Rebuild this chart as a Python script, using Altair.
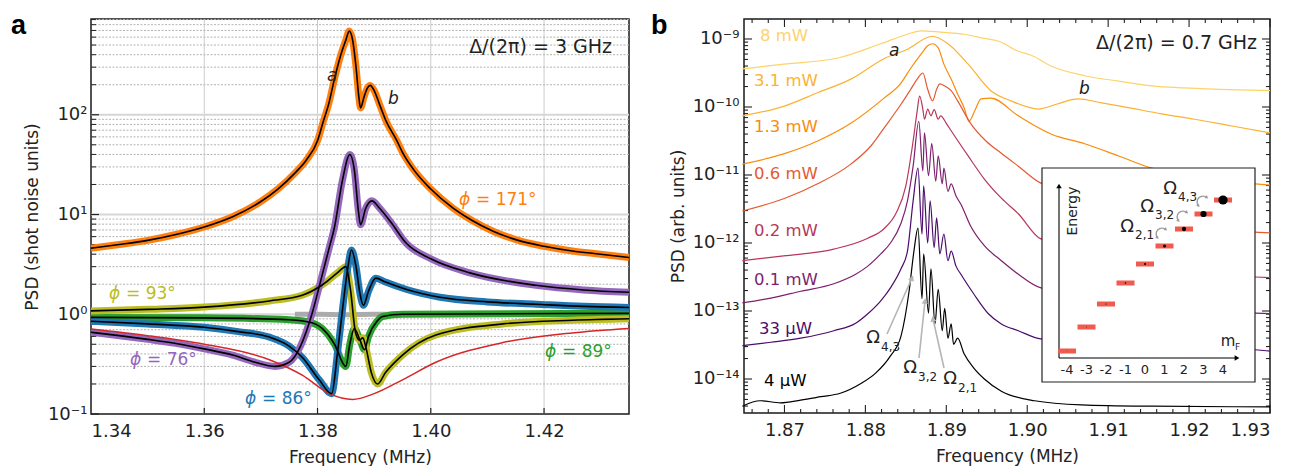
import math
import altair as alt
import pandas as pd

FONT = "DejaVu Sans"
INK = "#222222"

# ---------------- panel a data (frequency MHz, PSD shot-noise units) ----------------
a_orange_f = [1.340, 1.345, 1.350, 1.355, 1.360, 1.365, 1.370, 1.373, 1.376, 1.378, 1.380, 1.381, 1.382, 1.383,
              1.384, 1.385, 1.3856, 1.3862, 1.3868, 1.3873, 1.3876, 1.3882, 1.3888, 1.3893, 1.3900, 1.391, 1.392,
              1.394, 1.395, 1.397, 1.400, 1.404, 1.407, 1.411, 1.415, 1.420, 1.425, 1.430, 1.435]
a_orange_v = [4.6, 5.0, 5.5, 6.3, 7.5, 9.5, 13.5, 18, 26, 35, 55, 85, 130, 230, 380, 560, 690, 560, 300, 150,
              117, 150, 185, 197, 175, 125, 89, 55, 42, 28, 18, 11.5, 8.9, 6.8, 5.6, 4.8, 4.3, 4.0, 3.7]

a_purple_f = [1.340, 1.345, 1.350, 1.355, 1.360, 1.365, 1.369, 1.3725, 1.375, 1.377, 1.379, 1.3805, 1.382, 1.383,
              1.3844, 1.3857, 1.3865, 1.3872, 1.3876, 1.3885, 1.3896, 1.391, 1.393, 1.3956, 1.400, 1.4069, 1.4186,
              1.427, 1.435]
a_purple_v = [0.66, 0.61, 0.56, 0.51, 0.45, 0.39, 0.33, 0.30, 0.33, 0.48, 1.0, 2.1, 4.5, 7.5, 22, 40, 28, 11, 7.9,
              11.5, 13.7, 11.5, 8.3, 5.2, 3.6, 2.6, 1.95, 1.75, 1.66]

a_blue_f = [1.340, 1.350, 1.360, 1.366, 1.3715, 1.375, 1.3773, 1.3803, 1.3825, 1.3835, 1.3844, 1.3853, 1.386,
            1.3868, 1.3875, 1.3881, 1.389, 1.3903, 1.392, 1.3956, 1.4016, 1.410, 1.4186, 1.427, 1.435]
a_blue_v = [0.85, 0.80, 0.74, 0.67, 0.59, 0.48, 0.37, 0.22, 0.16, 0.40, 1.1, 2.8, 4.4, 3.0, 1.6, 1.23, 1.7, 2.3,
            2.1, 1.78, 1.48, 1.33, 1.26, 1.2, 1.17]

a_yellow_f = [1.340, 1.350, 1.360, 1.3715, 1.3773, 1.381, 1.3835, 1.385, 1.3858, 1.3867, 1.3874, 1.388, 1.3886,
              1.3895, 1.3906, 1.392, 1.395, 1.4009, 1.4127, 1.425, 1.435]
a_yellow_v = [1.08, 1.12, 1.18, 1.36, 1.55, 2.0, 2.6, 3.0, 1.8, 0.66, 0.55, 0.58, 0.45, 0.26, 0.2, 0.26, 0.39, 0.62,
              0.8, 0.87, 0.9]

a_green_f = [1.340, 1.360, 1.375, 1.379, 1.3815, 1.383, 1.385, 1.3857, 1.3865, 1.3875, 1.3883, 1.389, 1.3905,
             1.3915, 1.395, 1.435]
a_green_v = [0.93, 0.92, 0.88, 0.82, 0.66, 0.50, 0.30, 0.50, 0.72, 0.55, 0.44, 0.60, 0.85, 0.95, 1.0, 1.02]

a_gray_f = [1.3760, 1.380, 1.385, 1.390, 1.400, 1.420, 1.435]
a_gray_v = [1.0, 1.0, 0.99, 1.0, 1.0, 1.0, 1.0]

a_red_f = [1.340, 1.350, 1.360, 1.3715, 1.3773, 1.3821, 1.3862, 1.390, 1.395, 1.4009, 1.4127, 1.425, 1.435]
a_red_v = [0.71, 0.61, 0.50, 0.35, 0.245, 0.16, 0.14, 0.16, 0.22, 0.33, 0.52, 0.65, 0.72]

a_x_ticks = [1.34, 1.36, 1.38, 1.40, 1.42]
a_y_ticks = [0.1, 1, 10, 100]
a_y_labels = ["10⁻¹", "10⁰", "10¹", "10²"]

# ---------------- panel b data (frequency MHz, log10 PSD arb. units) ----------------
b_8mw_f = [1.8648, 1.8699, 1.8766, 1.8819, 1.8852, 1.8869, 1.8893, 1.8922, 1.8947, 1.8964, 1.8989, 1.9005, 1.9030,
           1.9071, 1.9113, 1.9154, 1.9194, 1.9237, 1.9300]
b_8mw_e = [-9.44, -9.37, -9.28, -9.07, -8.93, -8.88, -8.90, -8.93, -8.99, -9.03, -9.18, -9.24, -9.40, -9.54, -9.62,
           -9.69, -9.72, -9.74, -9.76]

b_3mw_f = [1.8648, 1.8699, 1.8741, 1.8782, 1.8823, 1.8852, 1.8883, 1.8902, 1.8927, 1.8955, 1.8980, 1.9014, 1.9036,
           1.9063, 1.9092, 1.9125, 1.9166, 1.9207, 1.9253, 1.9300]
b_3mw_e = [-10.13, -9.99, -9.79, -9.59, -9.29, -9.15, -8.96, -9.07, -9.37, -9.76, -9.91, -10.03, -9.96, -9.88,
           -9.94, -10.01, -10.10, -10.18, -10.28, -10.38]

b_1mw_f = [1.8648, 1.8699, 1.8741, 1.8782, 1.8823, 1.8844, 1.8856, 1.8869, 1.8877, 1.8883, 1.8890, 1.8897, 1.8906,
           1.8914, 1.8922, 1.8928, 1.8935, 1.8943, 1.8955, 1.8989, 1.9030, 1.9071, 1.9113, 1.9154, 1.9282, 1.9300]
b_1mw_e = [-10.84, -10.69, -10.50, -10.24, -9.87, -9.65, -9.43, -9.22, -9.10, -9.07, -9.13, -9.37, -9.59, -9.81,
           -10.01, -10.21, -10.06, -9.88, -9.87, -10.13, -10.40, -10.54, -10.72, -10.90, -11.13, -11.15]

b_06mw_f = [1.8648, 1.8699, 1.8741, 1.8782, 1.8807, 1.8823, 1.8844, 1.8856, 1.8864, 1.8871, 1.8877, 1.8883, 1.8888,
            1.8892, 1.8898, 1.8906, 1.8914, 1.8930, 1.8949, 1.8968, 1.8989, 1.9017, 1.9282, 1.9300]
b_06mw_e = [-11.53, -11.35, -11.13, -10.84, -10.57, -10.31, -9.96, -9.74, -9.59, -9.50, -9.74, -9.91, -9.74, -9.66,
            -9.69, -9.76, -9.91, -10.24, -10.50, -10.68, -10.87, -11.12, -11.84, -11.85]

b_02mw_f = [1.8648, 1.8699, 1.8761, 1.8803, 1.8823, 1.8838, 1.8850, 1.8859, 1.8864, 1.8867, 1.8871, 1.8873, 1.8877,
            1.8881, 1.8885, 1.8890, 1.8893, 1.8900, 1.8906, 1.8927, 1.8947, 1.8968, 1.8989, 1.9017, 1.9282, 1.9300]
b_02mw_e = [-12.26, -12.19, -12.09, -11.93, -11.79, -11.56, -11.16, -10.50, -10.06, -9.84, -10.03, -10.18, -10.03,
            -10.13, -10.04, -10.18, -10.13, -10.24, -10.35, -10.72, -11.06, -11.34, -11.57, -11.94, -12.50, -12.51]

b_01mw_f = [1.8648, 1.8683, 1.8720, 1.8761, 1.8788, 1.8803, 1.8819, 1.8831, 1.8844, 1.8852, 1.8859, 1.8866, 1.8871,
            1.8873, 1.8878, 1.8882, 1.8887, 1.8890, 1.8895, 1.8897, 1.8902, 1.8906, 1.8912, 1.8918, 1.8930, 1.8947,
            1.8968, 1.8989, 1.9017, 1.9282, 1.9300]
b_01mw_e = [-12.88, -12.81, -12.71, -12.60, -12.46, -12.34, -12.16, -12.00, -11.71, -11.38, -10.87, -10.21, -10.94,
            -10.38, -11.01, -10.54, -11.09, -10.72, -11.13, -10.90, -11.24, -11.13, -11.31, -11.43, -11.75, -12.04,
            -12.26, -12.46, -12.66, -13.03, -13.04]

b_33uw_f = [1.8648, 1.8683, 1.8720, 1.8761, 1.8788, 1.8803, 1.8819, 1.8831, 1.8844, 1.8852, 1.8859, 1.8865, 1.8870,
            1.8872, 1.8877, 1.8880, 1.8885, 1.8888, 1.8892, 1.8897, 1.8902, 1.8906, 1.8912, 1.8918, 1.8934, 1.8952,
            1.8968, 1.8989, 1.9017, 1.9282, 1.9300]
b_33uw_e = [-13.51, -13.46, -13.40, -13.29, -13.18, -13.04, -12.85, -12.66, -12.38, -12.12, -11.38, -10.90, -11.87,
            -11.16, -12.00, -11.38, -12.07, -11.63, -12.16, -11.87, -12.26, -12.12, -12.34, -12.46, -12.75, -13.04,
            -13.19, -13.29, -13.41, -13.57, -13.59]

b_4uw_f = [1.8648, 1.8670, 1.8695, 1.8720, 1.8745, 1.8769, 1.8794, 1.8813, 1.8831, 1.8844, 1.8854, 1.8860, 1.8865,
           1.8870, 1.8872, 1.8878, 1.8881, 1.8886, 1.8890, 1.8895, 1.8898, 1.8902, 1.8906, 1.8909, 1.8914, 1.8922,
           1.8934, 1.8947, 1.8968, 1.9009, 1.9067, 1.9154, 1.9300]
b_4uw_e = [-14.40, -14.32, -14.35, -14.31, -14.26, -14.21, -14.07, -13.91, -13.66, -13.37, -12.71, -12.12, -11.78,
           -12.82, -12.16, -13.03, -12.38, -13.19, -12.68, -13.29, -12.96, -13.40, -13.19, -13.49, -13.40, -13.63,
           -13.84, -14.00, -14.18, -14.32, -14.38, -14.40, -14.41]

b_names = ["8 mW", "3.1 mW", "1.3 mW", "0.6 mW", "0.2 mW", "0.1 mW", "33 µW", "4 µW"]
b_colors = ["#fdd36a", "#fbb232", "#f98c0a", "#e35a32", "#b7375a", "#7e1f6e", "#4b0c6b", "#000000"]
b_x_ticks = [1.87, 1.88, 1.89, 1.90, 1.91, 1.92, 1.93]
b_y_exps = [-14, -13, -12, -11, -10, -9]
b_y_labels = ["10⁻¹⁴", "10⁻¹³", "10⁻¹²", "10⁻¹¹", "10⁻¹⁰", "10⁻⁹"]

# inset: Zeeman levels
inset_m = [-4, -3, -2, -1, 0, 1, 2, 3, 4]
inset_energy = [0, 24, 47, 68, 87, 105, 122, 137, 151]
inset_population = [0.002, 0.005, 0.01, 0.02, 0.04, 0.08, 0.15, 0.32, 0.7]

# ---------------- sizes ----------------
WA, HA = 538, 395
WB, HB = 526, 394


def xy(f, v):
    return pd.DataFrame({"f": f, "v": v})


def label_expr(values, labels):
    expr = "''"
    for val, lab in zip(values, labels):
        expr = f"abs(datum.value - {val!r}) < {abs(val) * 1e-6!r} ? '{lab}' : ({expr})"
    return expr


# ---------------- panel a ----------------
XA = alt.X("f:Q", scale=alt.Scale(domain=[1.34, 1.435], nice=False, zero=False),
           axis=alt.Axis(values=a_x_ticks, format=".2f", title="Frequency (MHz)", grid=False, ticks=False,
                         tickSize=0, domain=False, labelFont=FONT, labelFontSize=18, labelColor=INK,
                         labelPadding=8, titleFont=FONT, titleFontSize=17, titleFontWeight="normal",
                         titleColor=INK, titleBaseline="alphabetic", titleY=48, titleX=WA / 2))
YA = alt.Y("v:Q", scale=alt.Scale(type="log", domain=[0.1, 912], nice=False),
           axis=alt.Axis(values=a_y_ticks, labelExpr=label_expr(a_y_ticks, a_y_labels),
                         title="PSD (shot noise units)", grid=False, ticks=False, tickSize=0, domain=False,
                         labelFont=FONT, labelFontSize=18, labelColor=INK, labelPadding=4,
                         titleFont=FONT, titleFontSize=17, titleFontWeight="normal", titleColor=INK,
                         titleAngle=270, titleAlign="center", titleBaseline="middle", titleX=-59,
                         titleY=HA / 2))

a_minor = [m * 10.0 ** e for e in range(-1, 3) for m in range(2, 10) if m * 10.0 ** e < 912]

layers_a = [
    alt.Chart(xy([1.36, 1.38, 1.40, 1.42], [1, 1, 1, 1])).mark_rule(color="#cccccc", strokeWidth=1).encode(x=XA),
    alt.Chart(xy([1.36] * len(a_minor), a_minor)).mark_rule(color="#b3b3b3", strokeWidth=1,
                                                           strokeDash=[2, 1.5]).encode(y=YA),
    alt.Chart(xy([1.36] * 3, [1, 10, 100])).mark_rule(color="#d6d6d6", strokeWidth=2.2).encode(y=YA),
    alt.Chart(xy([1.36] * 4, a_y_ticks)).mark_rule(color=INK, strokeWidth=1.2).encode(
        y=YA, x=alt.value(0), x2=alt.value(8)),
    alt.Chart(xy([1.36] * len(a_minor), a_minor)).mark_rule(color=INK, strokeWidth=1).encode(
        y=YA, x=alt.value(0), x2=alt.value(5)),
    alt.Chart(xy(a_x_ticks[1:], [1] * 4)).mark_rule(color=INK, strokeWidth=1.2).encode(
        x=XA, y=alt.value(HA), y2=alt.value(HA - 6)),
]

bands = [
    (a_gray_f, a_gray_v, "#ababab", 5),
    (a_green_f, a_green_v, "#2ca02c", 7),
    (a_yellow_f, a_yellow_v, "#bcbd22", 7),
    (a_blue_f, a_blue_v, "#1f77b4", 7),
    (a_purple_f, a_purple_v, "#9467bd", 7),
    (a_orange_f, a_orange_v, "#ff7f0e", 7),
]
for f, v, c, w in bands:
    layers_a.append(alt.Chart(xy(f, v)).mark_line(color=c, strokeWidth=w, interpolate="monotone").encode(x=XA, y=YA))

layers_a.append(alt.Chart(xy(a_red_f, a_red_v)).mark_line(color="#d62728", strokeWidth=1.5,
                                                          interpolate="monotone").encode(x=XA, y=YA))
for f, v, c, w in bands[1:]:
    layers_a.append(alt.Chart(xy(f, v)).mark_line(color="black", strokeWidth=1.6,
                                                  interpolate="monotone").encode(x=XA, y=YA))


def txt(text, x, y, size=17, color=INK, align="left", baseline="middle", style="normal", weight="normal",
        angle=None):
    kw = dict(text=text, fontSize=size, color=color, align=align, baseline=baseline, font=FONT,
              fontStyle=style, fontWeight=weight)
    if angle is not None:
        kw["angle"] = angle
    return alt.Chart(pd.DataFrame({"k": [0]})).mark_text(**kw).encode(x=alt.value(x), y=alt.value(y))


def phi_label(rest, x, y, color):
    return [txt("ϕ", x, y, color=color, style="italic"), txt("= " + rest, x + 17, y, color=color)]


layers_a += [txt("Δ/(2π) = 3 GHz", 521, 28, size=19, align="right"),
             txt("a", 236, 57, style="italic"), txt("b", 297, 80, style="italic")]
layers_a += phi_label("171°", 368, 181, "#ff7f0e")
layers_a += phi_label("93°", 18, 275, "#bcbd22")
layers_a += phi_label("76°", 39, 341, "#9467bd")
layers_a += phi_label("86°", 154, 380, "#1f77b4")
layers_a += phi_label("89°", 454, 333, "#2ca02c")
layers_a.append(alt.Chart(pd.DataFrame({"k": [0]})).mark_text(
    text="a", fontSize=27, fontWeight="bold", font="Liberation Sans", align="left", baseline="top",
    color="black").encode(x=alt.value(-80), y=alt.value(-6)))

panel_a = alt.layer(*layers_a).properties(width=WA, height=HA)

# ---------------- panel b ----------------
YB_DOMAIN = [10 ** -14.5, 10 ** -8.706]
XB = alt.X("f:Q", scale=alt.Scale(domain=[1.865, 1.93], nice=False, zero=False),
           axis=alt.Axis(values=b_x_ticks, format=".2f", title="Frequency (MHz)", grid=False, ticks=False,
                         tickSize=0, domain=False, labelFont=FONT, labelFontSize=18, labelColor=INK,
                         labelPadding=8, labelFlush=True, titleFont=FONT, titleFontSize=17,
                         titleFontWeight="normal", titleColor=INK, titleBaseline="alphabetic", titleY=48,
                         titleX=WB / 2))
b_y_vals = [10.0 ** e for e in b_y_exps]
YB = alt.Y("v:Q", scale=alt.Scale(type="log", domain=YB_DOMAIN, nice=False),
           axis=alt.Axis(values=b_y_vals, labelExpr=label_expr(b_y_vals, b_y_labels),
                         title="PSD (arb. units)", grid=False, ticks=False, tickSize=0, domain=False,
                         labelFont=FONT, labelFontSize=18, labelColor=INK, labelPadding=5,
                         titleFont=FONT, titleFontSize=17, titleFontWeight="normal", titleColor=INK,
                         titleAngle=270, titleAlign="center", titleBaseline="middle", titleX=-66,
                         titleY=HB / 2))

b_minor_y = [m * 10.0 ** e for e in range(-15, -8) for m in range(2, 10)
             if YB_DOMAIN[0] <= m * 10.0 ** e <= YB_DOMAIN[1]]
b_minor_x = [round(1.866 + 0.002 * i, 3) for i in range(33)]
b_minor_x = [t for t in b_minor_x if t <= 1.93 and all(abs(t - mj) > 1e-6 for mj in b_x_ticks)]


def xyb(f, e):
    return pd.DataFrame({"f": f, "v": [10.0 ** x for x in e]})


layers_b = []
# inward ticks on all four sides
for vals, ln in ((b_y_vals, 8), (b_minor_y, 4)):
    d = pd.DataFrame({"f": [1.9] * len(vals), "v": vals})
    layers_b.append(alt.Chart(d).mark_rule(color=INK, strokeWidth=1.1).encode(
        y=YB, x=alt.value(0), x2=alt.value(ln)))
    layers_b.append(alt.Chart(d).mark_rule(color=INK, strokeWidth=1.1).encode(
        y=YB, x=alt.value(WB), x2=alt.value(WB - ln)))
for vals, ln in ((b_x_ticks, 8), (b_minor_x, 4)):
    d = pd.DataFrame({"f": vals, "v": [1e-12] * len(vals)})
    layers_b.append(alt.Chart(d).mark_rule(color=INK, strokeWidth=1.1).encode(
        x=XB, y=alt.value(HB), y2=alt.value(HB - ln)))
    layers_b.append(alt.Chart(d).mark_rule(color=INK, strokeWidth=1.1).encode(
        x=XB, y=alt.value(0), y2=alt.value(ln)))

b_series = [(b_8mw_f, b_8mw_e), (b_3mw_f, b_3mw_e), (b_1mw_f, b_1mw_e), (b_06mw_f, b_06mw_e),
            (b_02mw_f, b_02mw_e), (b_01mw_f, b_01mw_e), (b_33uw_f, b_33uw_e), (b_4uw_f, b_4uw_e)]
for (f, e), c in zip(b_series, b_colors):
    layers_b.append(alt.Chart(xyb(f, e)).mark_line(color=c, strokeWidth=1.2, interpolate="monotone").encode(
        x=XB, y=YB))

label_pos = [(16, 17), (10, 62), (10, 108), (10, 155), (10, 212), (10, 261), (15, 310), (20, 362)]
for name, c, (px, py) in zip(b_names, b_colors, label_pos):
    layers_b.append(txt(name, px, py, size=16.5, color=c))

layers_b += [txt("Δ/(2π) = 0.7 GHz", 513, 24, size=19, align="right"),
             txt("a", 145, 32, style="italic"), txt("b", 335, 70, style="italic")]

# Omega annotations with grey arrows in the main panel
arrows = [((143, 315), (168, 259)), ((175, 339), (181, 282)), ((200, 349), (189, 300))]
for (x1, y1), (x2, y2) in arrows:
    layers_b.append(alt.Chart(pd.DataFrame({"k": [0]})).mark_rule(color="#b5b5b5", strokeWidth=1.6).encode(
        x=alt.value(x1), y=alt.value(y1), x2=alt.value(x2), y2=alt.value(y2)))
    ang = math.degrees(math.atan2(x2 - x1, -(y2 - y1))) % 360
    layers_b.append(alt.Chart(pd.DataFrame({"k": [0]})).mark_point(
        shape="triangle-up", filled=True, size=40, angle=ang, color="#b5b5b5", opacity=1).encode(
        x=alt.value(x2), y=alt.value(y2)))


def omega(sub, x, y, size=18, subsize=12):
    return [txt("Ω", x, y, size=size, align="center"), txt(sub, x + 8, y + 9, size=subsize)]


layers_b += omega("4,3", 129, 319) + omega("3,2", 166, 349) + omega("2,1", 206, 360)

layers_b.append(alt.Chart(pd.DataFrame({"k": [0]})).mark_text(
    text="b", fontSize=27, fontWeight="bold", font="Liberation Sans", align="left", baseline="top",
    color="black").encode(x=alt.value(-93), y=alt.value(-6)))

main_b = alt.layer(*layers_b)

# ---------------- inset ----------------
XI = alt.X("m:Q", scale=alt.Scale(domain=[-4, 4], range=[323, 479], nice=False, zero=False), axis=None)
YI = alt.Y("e:Q", scale=alt.Scale(domain=[0, 151], range=[332, 181], nice=False, zero=False), axis=None)
inset_df = pd.DataFrame({"m": inset_m, "e": inset_energy, "p": inset_population,
                         "lab": [str(m) for m in inset_m]})
one = pd.DataFrame({"k": [0]})
inset_layers = [
    alt.Chart(one).mark_rect(fill="white", stroke="#222222", strokeWidth=1.2).encode(
        x=alt.value(298), x2=alt.value(511), y=alt.value(149), y2=alt.value(363)),
    alt.Chart(one).mark_rule(color="black", strokeWidth=1.1).encode(
        x=alt.value(315), y=alt.value(339), y2=alt.value(168)),
    alt.Chart(one).mark_rule(color="black", strokeWidth=1.1).encode(
        x=alt.value(315), x2=alt.value(491), y=alt.value(339)),
    alt.Chart(one).mark_point(shape="triangle-up", filled=True, size=30, color="black", opacity=1).encode(
        x=alt.value(315), y=alt.value(167)),
    alt.Chart(one).mark_point(shape="triangle-right", filled=True, size=30, color="black", opacity=1).encode(
        x=alt.value(493), y=alt.value(339)),
    alt.Chart(inset_df).mark_tick(orient="horizontal", size=18, thickness=5, color="#ef5b4e", opacity=1).encode(
        x=XI, y=YI),
    alt.Chart(inset_df).mark_circle(color="black", opacity=1).encode(
        x=XI, y=YI, size=alt.Size("p:Q", scale=alt.Scale(domain=[0, 0.7], range=[0, 85]), legend=None)),
    alt.Chart(inset_df).mark_text(fontSize=13, font=FONT, color=INK, baseline="middle").encode(
        x=XI, y=alt.value(351), text="lab:N"),
    txt("Energy", 329, 192, size=14, align="center", angle=270),
    txt("m", 484, 322, size=15, align="center"),
    txt("F", 491, 328, size=9),
]
for sub, cx, cy in (("4,3", 426, 170), ("3,2", 403, 188), ("2,1", 383, 208)):
    inset_layers += [txt("Ω", cx, cy, size=18, align="center"), txt(sub, cx + 8, cy + 8, size=12)]

# grey curved arrows between neighbouring levels
for acx, acy in ((459, 183), (439, 198), (418, 215)):
    th1, th2, r = 4.0, 7.0, 5.9
    inset_layers.append(alt.Chart(one).mark_arc(theta=th1, theta2=th2, radius=6.6, radius2=5.2,
                                                color="#9c9c9c").encode(x=alt.value(acx), y=alt.value(acy)))
    for th, sgn in ((th1, -1), (th2, 1)):
        px = acx + r * math.sin(th)
        py = acy - r * math.cos(th)
        dx, dy = sgn * math.cos(th), sgn * math.sin(th)
        ang = math.degrees(math.atan2(dx, -dy)) % 360
        inset_layers.append(alt.Chart(one).mark_point(shape="triangle-up", filled=True, size=14, angle=ang,
                                                      color="#9c9c9c", opacity=1).encode(
            x=alt.value(px), y=alt.value(py)))

inset = alt.layer(*inset_layers)

panel_b = alt.layer(main_b, inset).resolve_scale(x="independent", y="independent", size="independent").properties(
    width=WB, height=HB)

# plot areas: a at x 89..627, b at x 742..1268 -> 115 px between the two plot frames
chart = alt.hconcat(panel_a, panel_b, spacing=115, bounds="flush").properties(
    padding={"left": 2, "top": 3, "right": 0, "bottom": 0}
).configure_view(stroke="#1a1a1a", strokeWidth=1.5)

chart.save("out.html", embed_options={"renderer": "svg", "actions": False})
